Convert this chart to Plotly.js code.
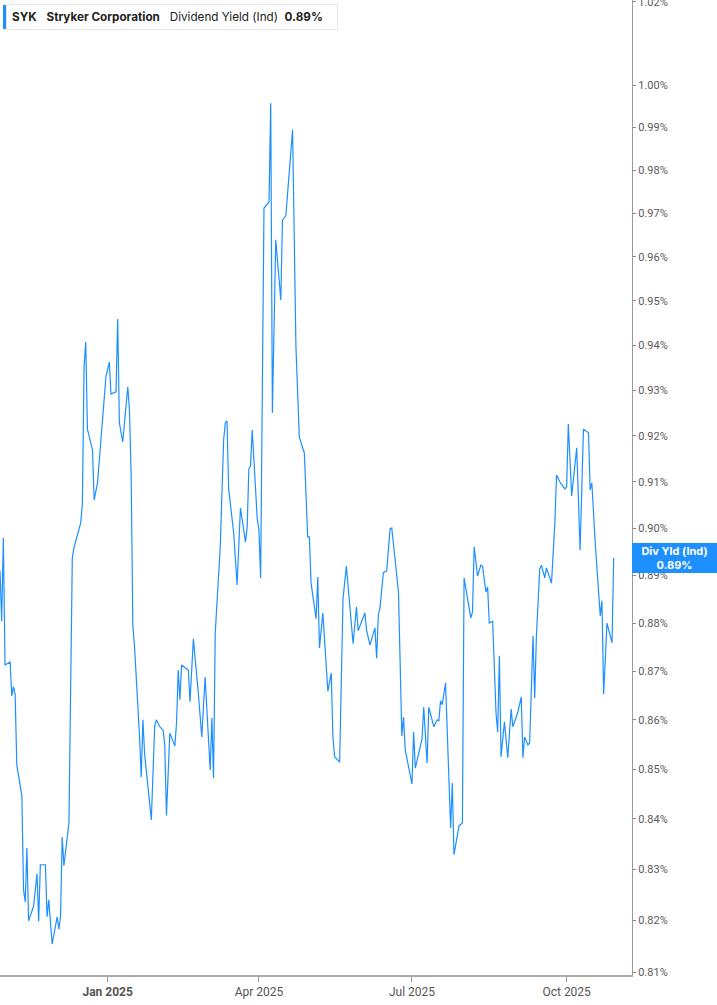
<!DOCTYPE html>
<html>
<head>
<meta charset="utf-8">
<script src="https://cdn.plot.ly/plotly-3.0.1.min.js"></script>
<style>
  html, body { margin: 0; padding: 0; background: #fff; }
  #chart { width: 717px; height: 1005px; }
</style>
</head>
<body>
<div id="chart"></div>
<script>
const ticker = 'SYK';
const company = 'Stryker Corporation';
const metric = 'Dividend Yield (Ind)';
const shortMetric = 'Div Yld (Ind)';

// daily dividend yield, in percent
const dates = [
  '2024-10-29','2024-10-30','2024-10-31','2024-11-01','2024-11-04','2024-11-05','2024-11-06','2024-11-07','2024-11-08','2024-11-11',
  '2024-11-12','2024-11-13','2024-11-14','2024-11-15','2024-11-18','2024-11-20','2024-11-21','2024-11-22','2024-11-25','2024-11-26',
  '2024-11-27','2024-11-29','2024-12-02','2024-12-03','2024-12-04','2024-12-05','2024-12-06','2024-12-09','2024-12-11','2024-12-12',
  '2024-12-16','2024-12-17','2024-12-18','2024-12-19','2024-12-20','2024-12-23','2024-12-24','2024-12-26','2024-12-31','2025-01-02',
  '2025-01-03','2025-01-06','2025-01-07','2025-01-08','2025-01-10','2025-01-13','2025-01-14','2025-01-15','2025-01-16','2025-01-17',
  '2025-01-20','2025-01-21','2025-01-22','2025-01-23','2025-01-27','2025-01-29','2025-01-30','2025-02-01','2025-02-03','2025-02-04',
  '2025-02-05','2025-02-07','2025-02-10','2025-02-11','2025-02-12','2025-02-13','2025-02-14','2025-02-18','2025-02-19','2025-02-21',
  '2025-02-24','2025-02-26','2025-02-28','2025-03-03','2025-03-04','2025-03-05','2025-03-06','2025-03-09','2025-03-11','2025-03-12',
  '2025-03-13','2025-03-14','2025-03-17','2025-03-19','2025-03-21','2025-03-24','2025-03-25','2025-03-26','2025-03-27','2025-03-28',
  '2025-03-31','2025-04-01','2025-04-02','2025-04-04','2025-04-07','2025-04-08','2025-04-09','2025-04-11','2025-04-14','2025-04-15',
  '2025-04-17','2025-04-21','2025-04-23','2025-04-25','2025-04-28','2025-04-30','2025-05-01','2025-05-02','2025-05-05','2025-05-06',
  '2025-05-07','2025-05-09','2025-05-12','2025-05-14','2025-05-15','2025-05-16','2025-05-19','2025-05-21','2025-05-23','2025-05-27',
  '2025-05-29','2025-05-30','2025-06-03','2025-06-04','2025-06-06','2025-06-09','2025-06-10','2025-06-11','2025-06-12','2025-06-14',
  '2025-06-16','2025-06-18','2025-06-19','2025-06-23','2025-06-25','2025-06-26','2025-06-27','2025-07-01','2025-07-02','2025-07-03',
  '2025-07-07','2025-07-08','2025-07-10','2025-07-11','2025-07-14','2025-07-16','2025-07-17','2025-07-18','2025-07-19','2025-07-21',
  '2025-07-24','2025-07-25','2025-07-26','2025-07-29','2025-07-31','2025-08-01','2025-08-05','2025-08-06','2025-08-07','2025-08-09',
  '2025-08-11','2025-08-12','2025-08-14','2025-08-15','2025-08-16','2025-08-18','2025-08-20','2025-08-21','2025-08-22','2025-08-23',
  '2025-08-25','2025-08-27','2025-08-29','2025-08-30','2025-09-02','2025-09-04','2025-09-05','2025-09-06','2025-09-08','2025-09-09',
  '2025-09-11','2025-09-12','2025-09-13','2025-09-15','2025-09-16','2025-09-18','2025-09-19','2025-09-22','2025-09-24','2025-09-25',
  '2025-09-27','2025-09-30','2025-10-01','2025-10-02','2025-10-04','2025-10-07','2025-10-09','2025-10-11','2025-10-14','2025-10-15',
  '2025-10-16','2025-10-18','2025-10-21','2025-10-22','2025-10-23','2025-10-25','2025-10-28','2025-10-29'
];
const divYield = [
  0.8910, 0.8804, 0.8980, 0.8713, 0.8719, 0.8649, 0.8668, 0.8653, 0.8508, 0.8446,
  0.8260, 0.8236, 0.8342, 0.8199, 0.8228, 0.8291, 0.8199, 0.8309, 0.8309, 0.8207,
  0.8240, 0.8154, 0.8207, 0.8183, 0.8207, 0.8364, 0.8307, 0.8392, 0.8937, 0.8959,
  0.9012, 0.9053, 0.9352, 0.9408, 0.9215, 0.9170, 0.9061, 0.9098, 0.9330, 0.9363,
  0.9292, 0.9297, 0.9459, 0.9229, 0.9187, 0.9308, 0.9257, 0.9115, 0.8796, 0.8752,
  0.8565, 0.8484, 0.8600, 0.8531, 0.8398, 0.8588, 0.8600, 0.8586, 0.8579, 0.8549,
  0.8407, 0.8573, 0.8547, 0.8594, 0.8702, 0.8641, 0.8713, 0.8702, 0.8637, 0.8767,
  0.8653, 0.8565, 0.8688, 0.8498, 0.8604, 0.8482, 0.8779, 0.8961, 0.9191, 0.9229,
  0.9233, 0.9085, 0.8990, 0.8880, 0.9044, 0.8971, 0.9003, 0.9128, 0.9135, 0.9213,
  0.9020, 0.8997, 0.8895, 0.9712, 0.9726, 0.9957, 0.9251, 0.9639, 0.9502, 0.9684,
  0.9694, 0.9894, 0.9397, 0.9198, 0.9163, 0.8982, 0.8982, 0.8884, 0.8809, 0.8897,
  0.8748, 0.8821, 0.8659, 0.8696, 0.8565, 0.8525, 0.8514, 0.8851, 0.8920, 0.8757,
  0.8834, 0.8784, 0.8821, 0.8786, 0.8754, 0.8790, 0.8727, 0.8817, 0.8832, 0.8906,
  0.8910, 0.8999, 0.9001, 0.8865, 0.8567, 0.8606, 0.8539, 0.8470, 0.8575, 0.8502,
  0.8561, 0.8626, 0.8512, 0.8626, 0.8586, 0.8600, 0.8598, 0.8639, 0.8631, 0.8676,
  0.8382, 0.8472, 0.8329, 0.8386, 0.8392, 0.8895, 0.8811, 0.8823, 0.8961, 0.8899,
  0.8922, 0.8920, 0.8865, 0.8876, 0.8800, 0.8804, 0.8614, 0.8575, 0.8732, 0.8525,
  0.8596, 0.8523, 0.8622, 0.8586, 0.8616, 0.8647, 0.8523, 0.8565, 0.8549, 0.8553,
  0.8773, 0.8645, 0.8771, 0.8914, 0.8922, 0.8895, 0.8916, 0.8884, 0.9012, 0.9115,
  0.9100, 0.9085, 0.9089, 0.9226, 0.9070, 0.9174, 0.8954, 0.9215, 0.9207, 0.9083,
  0.9098, 0.8969, 0.8815, 0.8847, 0.8653, 0.8800, 0.8759, 0.8937
];

const yTicks = [0.81, 0.82, 0.83, 0.84, 0.85, 0.86, 0.87, 0.88, 0.89, 0.90,
  0.91, 0.92, 0.93, 0.94, 0.95, 0.96, 0.97, 0.98, 0.99, 1.00, 1.02];
const xTicks = ['2025-01-01', '2025-04-01', '2025-07-01', '2025-10-01'];
const xTickText = ['<b>Jan 2025</b>', 'Apr 2025', 'Jul 2025', 'Oct 2025'];

const lineColor = '#1e8fff';
const last = divYield[divYield.length - 1];
const lastText = last.toFixed(2) + '%';

const trace = {
  x: dates,
  y: divYield,
  type: 'scatter',
  mode: 'lines',
  line: {color: lineColor, width: 1.2},
  hoverinfo: 'skip'
};

const layout = {
  width: 717,
  height: 1005,
  margin: {l: 0, r: 85, t: 0, b: 30},
  paper_bgcolor: '#fff',
  plot_bgcolor: '#fff',
  showlegend: false,
  font: {family: 'Roboto, sans-serif', color: '#555'},
  xaxis: {
    type: 'date',
    range: ['2024-10-29', '2025-11-08 21:00'],
    tickvals: xTicks,
    ticktext: xTickText,
    ticks: 'outside',
    ticklen: 5,
    tickcolor: '#999',
    showline: true,
    linecolor: '#aaa',
    linewidth: 1.5,
    showgrid: false,
    zeroline: false,
    tickfont: {size: 12, color: '#555'}
  },
  yaxis: {
    type: 'log',
    side: 'right',
    range: [Math.log10(0.81) - 0.00031, 0.00877],
    tickvals: yTicks,
    ticktext: yTicks.map(v => v.toFixed(2) + '%'),
    ticklabeloverflow: 'allow',
    ticks: 'outside',
    ticklen: 3,
    tickcolor: '#888',
    showline: true,
    linecolor: '#999',
    linewidth: 1,
    showgrid: false,
    zeroline: false,
    tickfont: {size: 11, color: '#5a5a5a'}
  },
  shapes: [{
    type: 'rect', xref: 'paper', yref: 'paper',
    x0: 3 / 632, x1: 6 / 632, y0: 1 - 29 / 975, y1: 1 - 5 / 975,
    fillcolor: lineColor, line: {width: 0}
  }],
  annotations: [
    {
      xref: 'paper', yref: 'paper', x: 6 / 632, y: 1 - 4 / 975,
      xanchor: 'left', yanchor: 'top',
      text: '<b>' + ticker + '</b>\u00a0\u00a0\u00a0<b>' + company + '</b>\u00a0\u00a0\u00a0' +
        metric + '\u00a0\u00a0<b>' + lastText + '</b>',
      showarrow: false, align: 'left',
      font: {family: 'Inter, sans-serif', size: 11.7, color: '#222'},
      bgcolor: '#fff', bordercolor: '#e8e8e8', borderwidth: 1, borderpad: 5,
      width: 320, height: 14
    },
    {
      xref: 'paper', yref: 'y', x: 1, y: Math.log10(last),
      xanchor: 'left', yanchor: 'middle',
      text: '<b>' + shortMetric + '</b><br><b>' + lastText + '</b>',
      showarrow: false, align: 'center',
      font: {family: 'Inter, sans-serif', size: 11, color: '#fff'},
      bgcolor: lineColor, borderpad: 2, borderwidth: 1, bordercolor: lineColor,
      width: 79, height: 24
    }
  ]
};

Plotly.newPlot('chart', [trace], layout, {displayModeBar: false, staticPlot: true});
</script>
</body>
</html>
